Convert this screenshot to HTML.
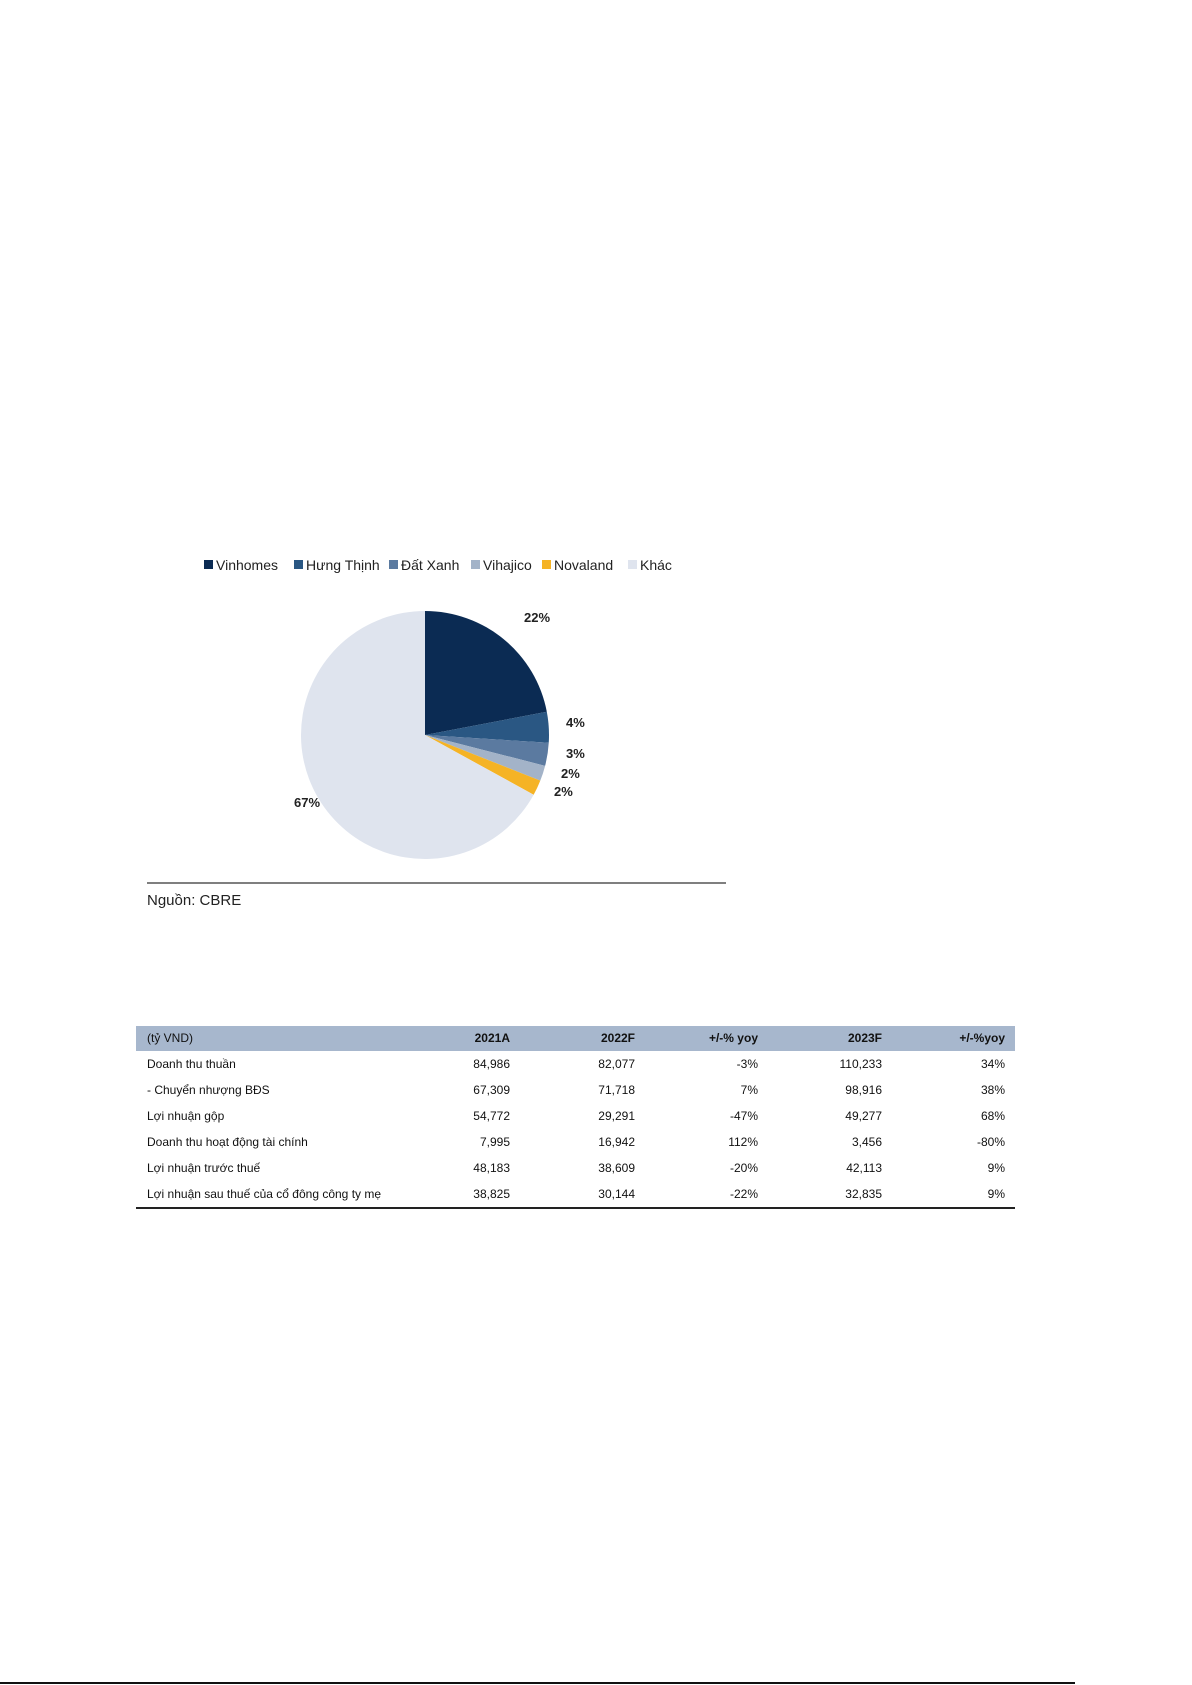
<!DOCTYPE html>
<html><head><meta charset="utf-8"><style>
body{margin:0;width:1192px;height:1685px;background:#fff;position:relative;font-family:"Liberation Sans",sans-serif;overflow:hidden}
.abs{position:absolute}
.row{position:absolute;left:136px;width:879px;height:26px;font-size:12px;color:#111}
.row span{position:absolute;top:5px;white-space:nowrap}
</style></head><body>
<svg class="abs" style="left:0;top:0" width="1192" height="960">
<g id="legend"></g><g id="slices"></g><g id="labels"></g>
<line x1="147" y1="883" x2="726" y2="883" stroke="#555" stroke-width="1.5"/>
<text x="147" y="905" font-size="15" fill="#222">Nguồn: CBRE</text>
</svg>
<div class="abs" style="left:136px;top:1026px;width:879px;height:25px;background:#a7b7cd"></div>
<div id="table"></div>
<div class="abs" style="left:136px;top:1207px;width:879px;height:1.5px;background:#222"></div>
<div class="abs" style="left:0;top:1682px;width:1075px;height:2px;background:#111"></div>
<script>
const categories=["Vinhomes","Hưng Thịnh","Đất Xanh","Vihajico","Novaland","Khác"];
const shares=[22,4,3,2,2,67];
const colors=["#0b2b53","#2a5783","#5b7aa0","#a3b3c8","#f5b325","#dfe4ee"];
const legendX=[204,294,389,471,542,628];
const labelPos=[[524,622],[566,727],[566,758],[561,778],[554,796],[294,807]];
const NS="http://www.w3.org/2000/svg";
const cx=425,cy=735,r=124;
const total=shares.reduce((a,b)=>a+b,0);
let a0=0;
const sl=document.getElementById('slices'),lg=document.getElementById('legend'),lb=document.getElementById('labels');
shares.forEach((v,i)=>{
  const a1=a0+v/total*2*Math.PI;
  const x0=cx+r*Math.sin(a0),y0=cy-r*Math.cos(a0),x1=cx+r*Math.sin(a1),y1=cy-r*Math.cos(a1);
  const p=document.createElementNS(NS,'path');
  p.setAttribute('d',`M${cx},${cy}L${x0},${y0}A${r},${r} 0 ${a1-a0>Math.PI?1:0} 1 ${x1},${y1}Z`);
  p.setAttribute('fill',colors[i]);
  
  
  sl.appendChild(p);a0=a1;
  const s=document.createElementNS(NS,'rect');
  s.setAttribute('x',legendX[i]);s.setAttribute('y',560);s.setAttribute('width',9);s.setAttribute('height',9);s.setAttribute('fill',colors[i]);
  
  
  lg.appendChild(s);
  const t=document.createElementNS(NS,'text');
  t.setAttribute('x',legendX[i]+12);t.setAttribute('y',570);t.setAttribute('font-size','14');t.setAttribute('fill','#222');
  t.textContent=categories[i];
  
  
  lg.appendChild(t);
  const l=document.createElementNS(NS,'text');
  l.setAttribute('x',labelPos[i][0]);l.setAttribute('y',labelPos[i][1]);l.setAttribute('font-size','13');l.setAttribute('fill','#222');l.setAttribute('font-weight','bold');
  l.textContent=v+'%';
  
  
  lb.appendChild(l);
});
const header=["(tỷ VND)","2021A","2022F","+/-% yoy","2023F","+/-%yoy"];
const rowLabels=["Doanh thu thuần","- Chuyển nhượng BĐS","Lợi nhuận gộp","Doanh thu hoạt động tài chính","Lợi nhuận trước thuế","Lợi nhuận sau thuế của cổ đông công ty mẹ"];
const v2021=["84,986","67,309","54,772","7,995","48,183","38,825"];
const v2022=["82,077","71,718","29,291","16,942","38,609","30,144"];
const yoy22=["-3%","7%","-47%","112%","-20%","-22%"];
const v2023=["110,233","98,916","49,277","3,456","42,113","32,835"];
const yoy23=["34%","38%","68%","-80%","9%","9%"];
const colRight=[374,499,622,746,869];
const tb=document.getElementById('table');
function mkRow(top,cells,bold,name){
  const d=document.createElement('div');d.className='row';d.style.top=top+'px';
  
  
  cells.forEach((c,j)=>{const s=document.createElement('span');s.textContent=c;
    if(j==0){s.style.left='11px';}else{s.style.right=(879-colRight[j-1])+'px';if(bold)s.style.fontWeight='bold';}
    tb.appendChild(d);d.appendChild(s);});
}
mkRow(1026,header,true,'table-header-row');
rowLabels.forEach((lab,i)=>mkRow(1052+i*26,[lab,v2021[i],v2022[i],yoy22[i],v2023[i],yoy23[i]],false,'table-row'));
</script>
</body></html>
